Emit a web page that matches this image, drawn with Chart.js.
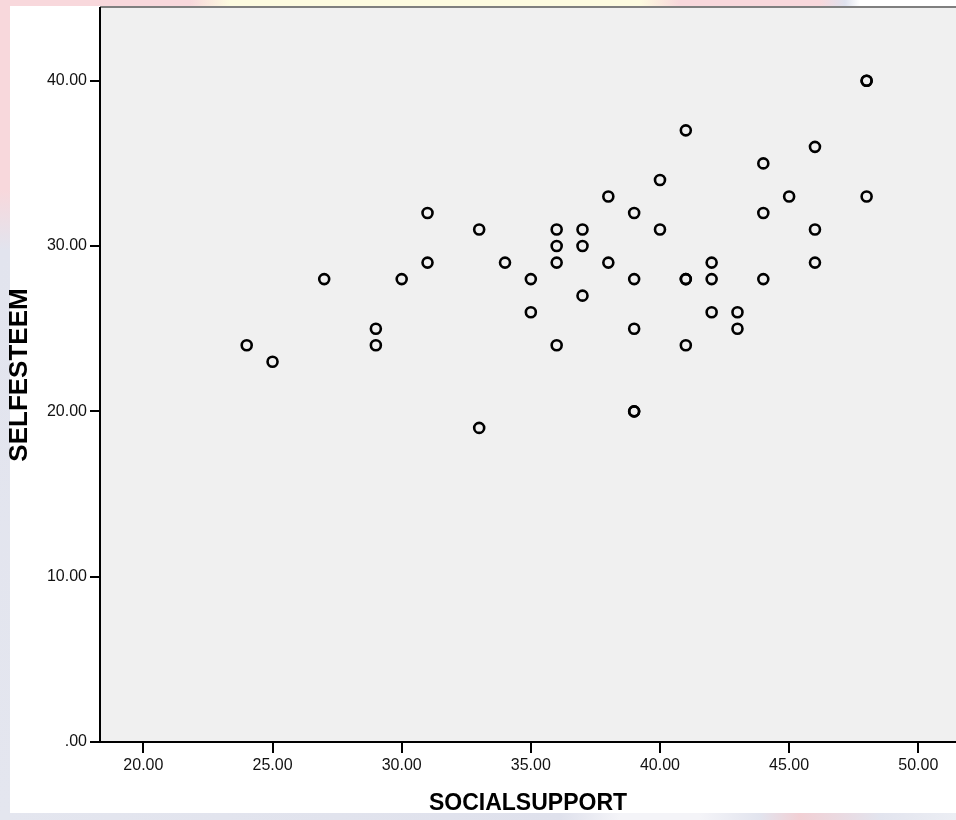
<!DOCTYPE html>
<html>
<head>
<meta charset="utf-8">
<title>SELFESTEEM by SOCIALSUPPORT</title>
<script src="https://cdn.jsdelivr.net/npm/chart.js@4.4.1/dist/chart.umd.min.js"></script>
<style>
    html, body { margin: 0; padding: 0; }
    body {
        width: 956px;
        height: 820px;
        overflow: hidden;
        position: relative;
        font-family: "Liberation Sans", Arial, sans-serif;
        /* faded watermark showing round the white output sheet */
        background:
            linear-gradient(to right, #f8d8dc 0, #f8d8dc 190px, #fdfbe0 230px, #fdfbe0 640px, #f8d8dc 680px, #f8d8dc 820px, #dfe2ee 845px, #fff 860px) top left / 100% 6px no-repeat,
            linear-gradient(to bottom, #f8d8dc 0, #f8d8dc 190px, #e2e4ee 250px, #e4e6ef 100%) top left / 10px 100% no-repeat,
            linear-gradient(to right, #e4e6ef 0, #dfe1ec 560px, #f4f4f8 620px, #f4f4f8 700px, #e2e4ee 760px, #f2cfd4 800px, #e2e4ee 880px, #eceef4 100%) bottom left / 100% 7px no-repeat,
            #fff;
    }
    .sheet { position: absolute; left: 10px; top: 6px; width: 946px; height: 807px; background: #fff; }
    .wrap { position: absolute; left: 0; top: 0; width: 956px; height: 820px; }
</style>
</head>
<body>
<div class="sheet"></div>
<div class="wrap"><canvas id="scatter"></canvas></div>
<script>
// SOCIALSUPPORT (x) and SELFESTEEM (y), one entry per case
const socialSupport = [24, 25, 27, 29, 29, 30, 31, 31, 33, 33, 34, 35, 35, 36, 36, 36, 36,
    37, 37, 37, 38, 38, 39, 39, 39, 39, 39, 40, 40, 41, 41, 41, 41, 42, 42, 42, 43, 43,
    44, 44, 44, 45, 46, 46, 46, 48, 48, 48];
const selfEsteem = [24, 23, 28, 25, 24, 28, 32, 29, 31, 19, 29, 28, 26, 31, 30, 29, 24,
    31, 30, 27, 33, 29, 32, 28, 25, 20, 20, 34, 31, 37, 28, 28, 24, 29, 28, 26, 26, 25,
    35, 32, 28, 33, 36, 31, 29, 40, 40, 33];

const xTicks = [20, 25, 30, 35, 40, 45, 50];
const xTickLabels = ['20.00', '25.00', '30.00', '35.00', '40.00', '45.00', '50.00'];
const yTicks = [0, 10, 20, 30, 40];
const yTickLabels = ['.00', '10.00', '20.00', '30.00', '40.00'];
const xRange = [18.32, 51.46];
const yRange = [0, 44.4];

const points = socialSupport.map((x, i) => ({ x: x, y: selfEsteem[i] }));

// grey plot background and the grey top rule
const plotFrame = {
    id: 'plotFrame',
    beforeDraw(chart) {
        const { ctx, chartArea: a } = chart;
        ctx.save();
        ctx.fillStyle = '#f0f0f0';
        ctx.fillRect(a.left, a.top, a.right - a.left, a.bottom - a.top);
        ctx.strokeStyle = '#7f7f7f';
        ctx.lineWidth = 2;
        ctx.beginPath();
        ctx.moveTo(a.left, a.top - 1);
        ctx.lineTo(a.right, a.top - 1);
        ctx.stroke();
        ctx.restore();
    }
};

const tickFont = { family: '"Liberation Sans", Arial, sans-serif', size: 16 };

new Chart(document.getElementById('scatter'), {
    type: 'scatter',
    data: {
        datasets: [{
            data: points,
            pointStyle: 'circle',
            pointRadius: 5,
            pointHoverRadius: 5,
            borderWidth: 2.6,
            borderColor: '#000',
            backgroundColor: 'rgba(0,0,0,0)'
        }]
    },
    options: {
        responsive: true,
        maintainAspectRatio: false,
        animation: false,
        layout: { autoPadding: false, padding: { top: 8, left: 0, right: 0, bottom: 0 } },
        plugins: { legend: { display: false }, tooltip: { enabled: false } },
        scales: {
            x: {
                type: 'linear',
                min: xRange[0],
                max: xRange[1],
                afterBuildTicks: s => { s.ticks = xTicks.map(v => ({ value: v })); },
                afterFit: s => { s.height = 78; s.paddingLeft = 0; s.paddingRight = 0; },
                border: { color: '#000', width: 2 },
                grid: { drawOnChartArea: false, drawTicks: true, tickLength: 11, color: '#000', lineWidth: 2 },
                ticks: {
                    color: '#111',
                    font: tickFont,
                    padding: 3,
                    maxRotation: 0,
                    callback: (v) => xTickLabels[xTicks.indexOf(v)]
                },
                title: {
                    display: true,
                    text: 'SOCIALSUPPORT',
                    color: '#000',
                    font: { family: '"Liberation Sans", Arial, sans-serif', size: 23, weight: 'bold' },
                    padding: { top: 0, bottom: 3 }
                }
            },
            y: {
                type: 'linear',
                min: yRange[0],
                max: yRange[1],
                afterBuildTicks: s => { s.ticks = yTicks.map(v => ({ value: v })); },
                afterFit: s => { s.width = 100; s.paddingTop = 0; s.paddingBottom = 0; },
                border: { color: '#000', width: 2 },
                grid: { drawOnChartArea: false, drawTicks: true, tickLength: 10, color: '#000', lineWidth: 2 },
                ticks: {
                    color: '#111',
                    font: tickFont,
                    padding: 3,
                    callback: (v) => yTickLabels[yTicks.indexOf(v)]
                },
                title: {
                    display: true,
                    text: 'SELFESTEEM',
                    color: '#000',
                    font: { family: '"Liberation Sans", Arial, sans-serif', size: 26, weight: 'bold' },
                    padding: { top: 4, bottom: 0 }
                }
            }
        }
    },
    plugins: [plotFrame]
});
</script>
</body>
</html>
